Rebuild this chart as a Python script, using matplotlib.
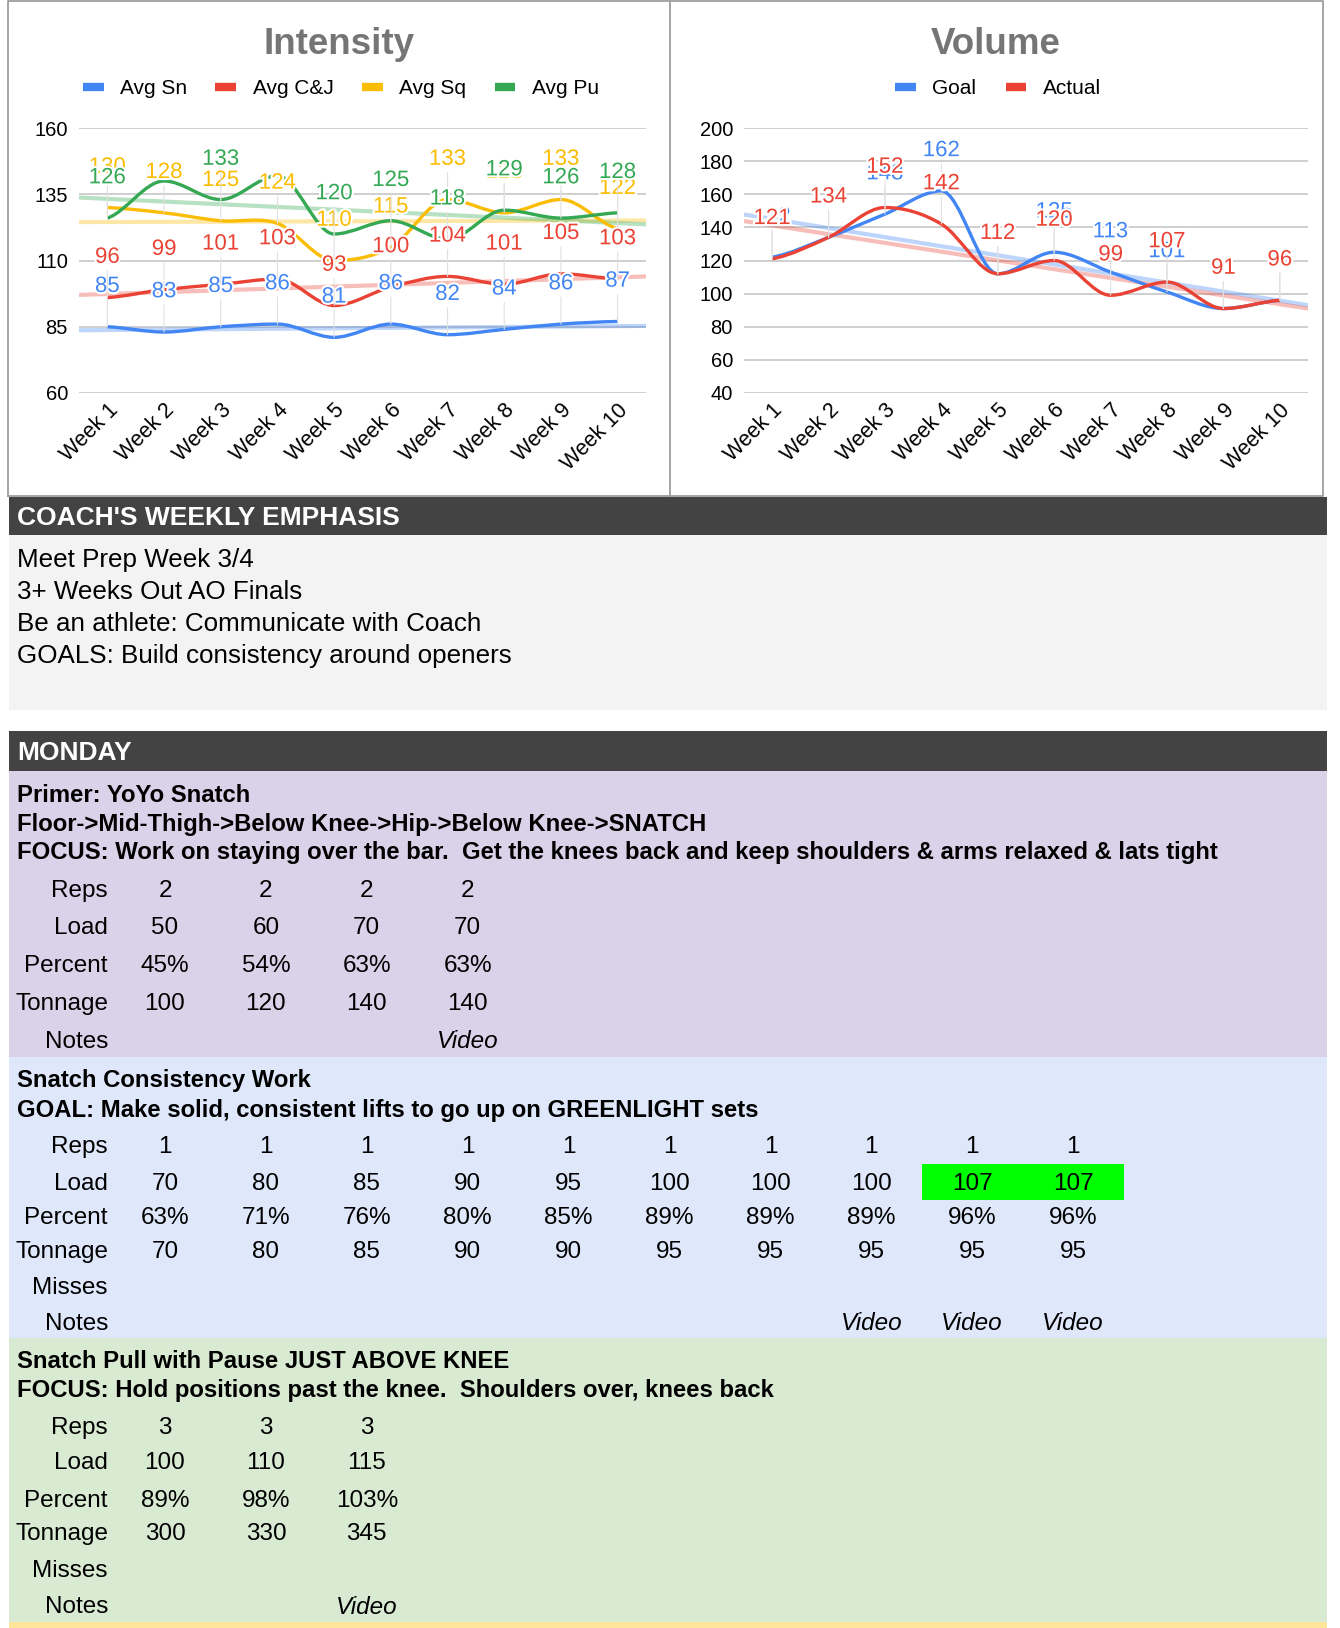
import numpy as np
import matplotlib
matplotlib.use("Agg")
import matplotlib.pyplot as plt
from matplotlib.path import Path
from matplotlib.patches import PathPatch, Rectangle
from matplotlib.lines import Line2D
import matplotlib.patheffects as pe

plt.rcParams['font.family'] = ['Liberation Sans', 'DejaVu Sans']

# --- chart data ---
weeks = ["Week 1", "Week 2", "Week 3", "Week 4", "Week 5",
         "Week 6", "Week 7", "Week 8", "Week 9", "Week 10"]
avg_sn = [85, 83, 85, 86, 81, 86, 82, 84, 86, 87]
avg_cj = [96, 99, 101, 103, 93, 100, 104, 101, 105, 103]
avg_sq = [130, 128, 125, 124, 110, 115, 133, 128, 133, 122]
avg_pu = [126, 140, 133, 142, 120, 125, 118, 129, 126, 128]
pu_hidden_labels = [1, 3]   # the sheet chart drops these two labels
vol_goal = [122, 134, 148, 162, 112, 125, 113, 101, 91, 96]
vol_actual = [121, 134, 152, 142, 112, 120, 99, 107, 91, 96]

# --- sheet text ---
emphasis_lines = ["Meet Prep Week 3/4", "3+ Weeks Out AO Finals",
                  "Be an athlete: Communicate with Coach",
                  "GOALS: Build consistency around openers"]

primer_title = ["Primer: YoYo Snatch",
                "Floor->Mid-Thigh->Below Knee->Hip->Below Knee->SNATCH",
                "FOCUS: Work on staying over the bar.  Get the knees back and keep shoulders & arms relaxed & lats tight"]
primer_reps = ["2", "2", "2", "2"]
primer_load = ["50", "60", "70", "70"]
primer_pct = ["45%", "54%", "63%", "63%"]
primer_ton = ["100", "120", "140", "140"]
primer_notes = ["", "", "", "Video"]

snatch_title = ["Snatch Consistency Work",
                "GOAL: Make solid, consistent lifts to go up on GREENLIGHT sets"]
snatch_reps = ["1"] * 10
snatch_load = ["70", "80", "85", "90", "95", "100", "100", "100", "107", "107"]
snatch_pct = ["63%", "71%", "76%", "80%", "85%", "89%", "89%", "89%", "96%", "96%"]
snatch_ton = ["70", "80", "85", "90", "90", "95", "95", "95", "95", "95"]
snatch_misses = [""] * 10
snatch_notes = ["", "", "", "", "", "", "", "Video", "Video", "Video"]
snatch_greenlight = [8, 9]

pull_title = ["Snatch Pull with Pause JUST ABOVE KNEE",
              "FOCUS: Hold positions past the knee.  Shoulders over, knees back"]
pull_reps = ["3", "3", "3"]
pull_load = ["100", "110", "115"]
pull_pct = ["89%", "98%", "103%"]
pull_ton = ["300", "330", "345"]
pull_misses = ["", "", ""]
pull_notes = ["", "", "Video"]

BLUE, RED, YELLOW, GREEN = "#4285f4", "#ea4335", "#fbbc04", "#34a853"
W, H = 1340, 1628

fig = plt.figure(figsize=(W / 100, H / 100), dpi=100)
bg = fig.add_axes([0, 0, 1, 1], zorder=0)
bg.set_xlim(0, W)
bg.set_ylim(H, 0)
bg.axis('off')


def px_axes(x0, y0, x1, y1):
    return fig.add_axes([x0 / W, 1 - y1 / H, (x1 - x0) / W, (y1 - y0) / H], zorder=2)


def smooth_path(xs, ys):
    # curve through the points, flat at local peaks/dips like the sheets chart
    xs = np.asarray(xs, float)
    ys = np.asarray(ys, float)
    n = len(xs)
    sl = np.zeros(n)
    for i in range(n):
        if i == 0:
            sl[i] = (ys[1] - ys[0]) / (xs[1] - xs[0]) * 0.5
        elif i == n - 1:
            sl[i] = (ys[-1] - ys[-2]) / (xs[-1] - xs[-2]) * 0.5
        else:
            d0, d1 = ys[i] - ys[i - 1], ys[i + 1] - ys[i]
            sl[i] = 0 if d0 * d1 <= 0 else (ys[i + 1] - ys[i - 1]) / (xs[i + 1] - xs[i - 1])
    verts = [(xs[0], ys[0])]
    codes = [Path.MOVETO]
    for i in range(n - 1):
        h = (xs[i + 1] - xs[i]) / 3
        verts += [(xs[i] + h, ys[i] + sl[i] * h),
                  (xs[i + 1] - h, ys[i + 1] - sl[i + 1] * h),
                  (xs[i + 1], ys[i + 1])]
        codes += [Path.CURVE4] * 3
    return Path(verts, codes)


def line_chart(ax, series, yticks):
    x = np.arange(1, len(weeks) + 1)
    ax.set_facecolor('none')
    ax.set_xlim(0.5, 10.5)
    ax.set_ylim(yticks[0], yticks[-1])
    ax.set_yticks(yticks)
    ax.set_xticks(x)
    ax.set_xticklabels(weeks, rotation=45, ha='right', rotation_mode='anchor', fontsize=15.5)
    ax.tick_params(axis='y', labelsize=14.5, length=0, pad=8)
    ax.tick_params(axis='x', length=0, pad=5)
    for s in ax.spines.values():
        s.set_visible(False)
    ax.grid(axis='y', color='#cccccc', lw=1.3)
    ax.set_axisbelow(True)
    xx = np.array([0.5, 10.5])
    # trendlines
    for vals, col, _ in series:
        k, b = np.polyfit(x, vals, 1)
        ax.plot(xx, k * xx + b, color=col, lw=3, alpha=0.35, zorder=2, solid_capstyle='butt')
    for vals, col, _ in series:
        ax.add_patch(PathPatch(smooth_path(x, vals), fill=False, edgecolor=col, lw=2.4, zorder=3))
    for vals, col, hidden in series:
        for i, (xi, v) in enumerate(zip(x, vals)):
            if i in hidden:
                continue
            ax.annotate(str(v), (xi, v), xytext=(0, 29), textcoords='offset points',
                        ha='center', va='center', fontsize=16, color=col, zorder=4,
                        path_effects=[pe.withStroke(linewidth=3, foreground='white')],
                        arrowprops=dict(arrowstyle='-', color='#e0e0e0', lw=0.8,
                                        shrinkA=0, shrinkB=0))
    handles = [Line2D([], [], color=col, lw=6, solid_capstyle='butt') for _, col, _ in series]
    return handles


# chart frames
frame = '#9e9e9e'
bg.plot([8, 8, 1323, 1323, 8], [496, 1, 1, 496, 496], color=frame, lw=1.3)
bg.plot([670, 670], [1, 496], color=frame, lw=1.3)

ax1 = px_axes(79, 128, 646, 393)
h1 = line_chart(ax1, [(avg_sn, BLUE, []), (avg_cj, RED, []), (avg_sq, YELLOW, []),
                      (avg_pu, GREEN, pu_hidden_labels)],
                [60, 85, 110, 135, 160])
ax2 = px_axes(744, 128, 1308, 393)
h2 = line_chart(ax2, [(vol_goal, BLUE, []), (vol_actual, RED, [])], list(range(40, 201, 20)))

bg.text(339, 44, "Intensity", ha='center', va='center', fontsize=26.5, fontweight='bold', color='#757575')
bg.text(996, 44, "Volume", ha='center', va='center', fontsize=26.5, fontweight='bold', color='#757575')
fig.legend(h1, ["Avg Sn", "Avg C&J", "Avg Sq", "Avg Pu"], loc='center', ncol=4,
           bbox_to_anchor=(341 / W, 1 - 89 / H), frameon=False, fontsize=15,
           handlelength=1.0, handletextpad=0.8, columnspacing=1.35)
fig.legend(h2, ["Goal", "Actual"], loc='center', ncol=2,
           bbox_to_anchor=(998 / W, 1 - 89 / H), frameon=False, fontsize=15,
           handlelength=1.0, handletextpad=0.8, columnspacing=1.4)

# --- sheet part ---
X0, X1 = 9, 1327
TXT = 17
FS = 17.5
FS_BOLD = 17.2


def band(y0, y1, color):
    bg.add_patch(Rectangle((X0, y0), X1 - X0, y1 - y0, color=color, lw=0, zorder=0))


def header(y0, y1, label):
    band(y0, y1, '#434343')
    bg.text(TXT, (y0 + y1) / 2 + 2, label, ha='left', va='center', fontsize=19,
            fontweight='bold', color='white')


header(497, 535, "COACH'S WEEKLY EMPHASIS")
band(535, 710, '#f3f3f3')
for yy, t in zip([560, 592, 624, 656], emphasis_lines):
    bg.text(TXT, yy, t, ha='left', va='center', fontsize=18.7)

header(731, 771, "MONDAY")

COL0, STEP, LABX = 165, 100.9, 108


def block(y0, y1, color, titles, title_y, rows, row_y, highlight=None):
    band(y0, y1, color)
    for yy, t in zip(title_y, titles):
        bg.text(TXT, yy + 3, t, ha='left', va='center', fontsize=FS_BOLD, fontweight='bold')
    for (lab, vals), yy in zip(rows, row_y):
        bg.text(LABX, yy + 1, lab, ha='right', va='center', fontsize=FS)
        for i, v in enumerate(vals):
            cx = COL0 + i * STEP
            if highlight and lab == "Load" and i in highlight:
                bg.add_patch(Rectangle((cx - STEP / 2, yy - 19), STEP, 36, color='#00ff00', lw=0, zorder=0.5))
            bg.text(cx, yy + 1, v, ha='center', va='center', fontsize=FS,
                    style='italic' if lab == "Notes" else 'normal')


block(771, 1057, '#d9d2e9', primer_title, [793, 821, 850],
      [("Reps", primer_reps), ("Load", primer_load), ("Percent", primer_pct),
       ("Tonnage", primer_ton), ("Notes", primer_notes)],
      [890, 927, 965, 1003, 1041])
block(1057, 1338, '#dfe8fb', snatch_title, [1078, 1107],
      [("Reps", snatch_reps), ("Load", snatch_load), ("Percent", snatch_pct),
       ("Tonnage", snatch_ton), ("Misses", snatch_misses), ("Notes", snatch_notes)],
      [1146, 1183, 1217, 1251, 1287, 1323], highlight=snatch_greenlight)
block(1338, 1622, '#d9ead3', pull_title, [1358, 1388],
      [("Reps", pull_reps), ("Load", pull_load), ("Percent", pull_pct),
       ("Tonnage", pull_ton), ("Misses", pull_misses), ("Notes", pull_notes)],
      [1427, 1462, 1500, 1533, 1570, 1606])
band(1622, 1628, '#ffe599')

fig.savefig("out.png", dpi=100)
